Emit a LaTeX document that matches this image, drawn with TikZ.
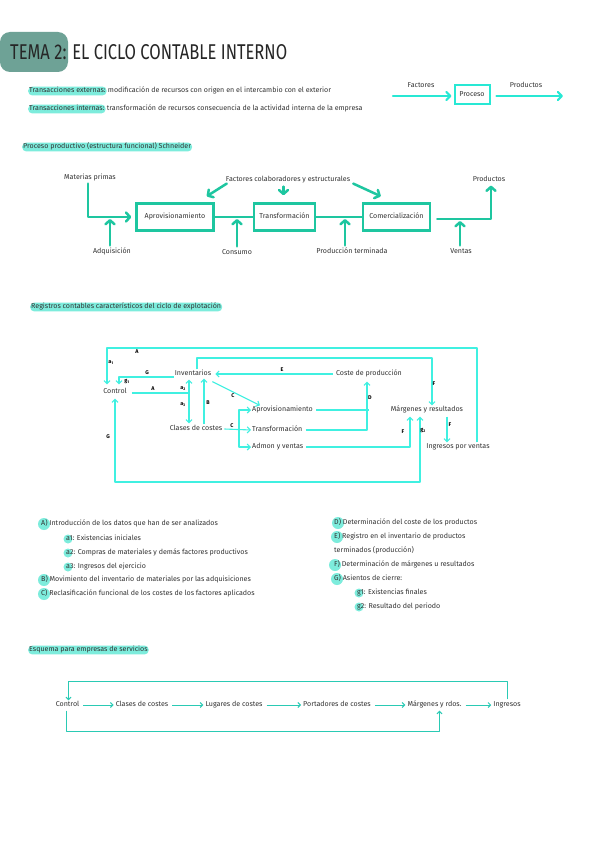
\documentclass[tikz,border=0pt]{standalone}
\usepackage{fontspec}
\setmainfont{Fira Sans}
\usetikzlibrary{arrows.meta,calc}
\definecolor{titlebox}{RGB}{110,162,150}
\definecolor{hl}{RGB}{125,236,220}
\definecolor{procc}{RGB}{30,198,160}
\definecolor{regc}{RGB}{64,240,225}
\definecolor{topc}{RGB}{40,232,212}
\definecolor{botc}{RGB}{42,202,180}
\definecolor{ink}{RGB}{50,50,50}
\tikzset{
  txt/.style={font=\fontsize{7.1}{8.5}\selectfont, text=ink, inner sep=1pt, text height=5.2pt, text depth=1.6pt},
  lab/.style={font=\fontsize{5.4}{6.5}\selectfont\bfseries, text=black, inner sep=0pt},
  hlbox/.style={txt, fill=hl, rounded corners=4pt},
  pbox/.style={txt, draw=procc, line width=2.5pt, minimum height=27pt},
  pline/.style={draw=procc, line width=2.5pt, line cap=round, line join=round},
  parrow/.style={pline, -{Straight Barb[length=4pt,width=9pt,round]}},
  tline/.style={draw=topc, line width=2.2pt, line cap=round, -{Straight Barb[length=4pt,width=8pt,round]}},
  rline/.style={draw=regc, line width=1.1pt, line join=round},
  rarrow/.style={rline, -{Straight Barb[length=3pt,width=6pt]}},
  rdarrow/.style={rline, {Straight Barb[length=3pt,width=6pt]}-{Straight Barb[length=3pt,width=6pt]}},
  bline/.style={draw=botc, line width=1pt, line join=round},
  barrow/.style={bline, -{Straight Barb[length=2.5pt,width=5pt]}},
  dot/.style={fill=hl},
}
\begin{document}
\begin{tikzpicture}[x=1pt,y=-1pt]
\path[use as bounding box, fill=white] (0,0) rectangle (599,848);

% ---------- title ----------
\fill[titlebox, rounded corners=10pt] (0,32) rectangle (68,72);
\node[anchor=west, inner sep=0pt, text=black!85] (title) at (10,52.5)
  {\resizebox{277pt}{15pt}{TEMA 2: EL CICLO CONTABLE INTERNO}};

% ---------- transactions ----------
\node[hlbox, anchor=west] (te) at (28,91) {Transacciones externas:};
\node[txt, anchor=west] (te2) at (te.east) {modificación de recursos con origen en el intercambio con el exterior};
\node[hlbox, anchor=west] (ti) at (28,109) {Transacciones internas:};
\node[txt, anchor=west] (ti2) at (ti.east) {transformación de recursos consecuencia de la actividad interna de la empresa};

% ---------- factores / proceso / productos ----------
\node[txt, draw=topc, line width=2pt, minimum width=35pt, minimum height=19pt] (proc) at (472,95) {Proceso};
\node[txt] (tfac) at (421,86) {Factores};
\node[txt] (tpro) at (526,86) {Productos};
\coordinate (fin) at (393,96);
\coordinate (fout) at (563,96);
\draw[tline] (fin) -- ($(proc.west)+(-2,1)$);
\draw[tline] ($(proc.east)+(6,1)$) -- (fout);

% ---------- proceso productivo ----------
\node[hlbox, anchor=west] (hpp) at (22,147) {Proceso productivo (estructura funcional) Schneider};

\node[pbox, minimum width=77pt] (apr) at (175,217) {Aprovisionamiento};
\node[pbox, minimum width=61pt] (tra) at (284.5,217) {Transformación};
\node[pbox, minimum width=67pt] (com) at (396.5,217) {Comercialización};
\node[txt] (mp) at (90,178) {Materias primas};
\node[txt] (adq) at (112,252) {Adquisición};
\node[txt] (cons) at (237,253) {Consumo};
\node[txt] (prodt) at (352,252) {Producción terminada};
\node[txt] (vent) at (461,252) {Ventas};
\node[txt] (prods) at (489,180) {Productos};
\node[txt] (fac) at (288,180) {Factores colaboradores y estructurales};

\draw[parrow] ($(mp.south)+(-2,1)$) |- ($(apr.west)+(-4,0)$);
\draw[parrow] ($(adq.north)+(-2,-2)$) -- ($(adq.north |- apr.west)+(-2,2)$);
\draw[pline] (apr.east) -- (tra.west);
\draw[parrow] ($(cons.north)+(0,-2)$) -- ($(cons.north |- apr.east)+(0,2)$);
\draw[pline] (tra.east) -- (com.west);
\draw[parrow] ($(prodt.north)+(-7,-2)$) -- ($(prodt.north |- tra.east)+(-7,2)$);
\draw[parrow] ($(com.east)+(6,2)$) -| ($(prods.south)+(2,1)$);
\draw[parrow] ($(vent.north)+(-1,-2)$) -- ($(vent.north |- com.east)+(-1,4)$);
\draw[parrow] ($(fac.south west)+(2,-1)$) -- ($(apr.north east)+(-8,-6)$);
\draw[parrow] ($(fac.south -| tra.north)+(-1,2)$) -- ($(tra.north)+(-1,-7)$);
\draw[parrow] ($(fac.south east)+(2,-1)$) -- ($(com.north west)+(19,-6)$);

% ---------- registros ----------
\node[hlbox, anchor=west] (hreg) at (30,307) {Registros contables característicos del ciclo de explotación};

\node[txt] (ctl) at (115,392) {Control};
\node[txt] (inv) at (193,374) {Inventarios};
\node[txt] (cla) at (196,429) {Clases de costes};
\node[txt, anchor=west] (apv) at (251,410) {Aprovisionamiento};
\node[txt, anchor=west] (trf) at (251,430) {Transformación};
\node[txt, anchor=west] (adm) at (251,447) {Admon y ventas};
\node[txt] (cst) at (369,374) {Coste de producción};
\node[txt] (mar) at (427,410) {Márgenes y resultados};
\node[txt] (ing) at (458,447) {Ingresos por ventas};

\coordinate (ra) at (477,348);
\coordinate (la) at (107,348);
\coordinate (rb) at (432,358);
\coordinate (va) at (189,393);
\coordinate (cb) at (239,430);
\coordinate (gbot) at (0,482);
\coordinate (bB) at ($(cla.north)+(8,0)$);
\coordinate (fF) at ($(mar.south)+(20,2)$);

\draw[rarrow] (ing.north -| ra) -- (ra) -- (la) -- ($(la |- ctl.north)+(0,-3)$);
\draw[rarrow] ($(inv.north)+(4,0)$) |- (rb) -- (rb |- mar.north);
\draw[rarrow] ($(inv.west)+(0,3)$) -| ($(ctl.north)+(4,-3)$);
\draw[rline] ($(ctl.east)+(4,1)$) -- (va);
\draw[rdarrow] ($(inv.south -| va)+(0,1)$) -- ($(cla.north -| va)+(0,-1)$);
\draw[rarrow] (bB) -- (bB |- inv.south);
\draw[rarrow] ($(inv.south east)+(0,3)$) -- ($(apv.north west)+(9,0)$);
\draw[rarrow] ($(cla.east)+(1,0)$) -- (trf.west);
\draw[rarrow] (cb) |- (apv.west);
\draw[rarrow] (cb) |- (adm.west);
\draw[rline] ($(apv.east)+(2,0)$) -- (apv.east -| cst.south);
\draw[rarrow] ($(trf.east)+(2,0)$) -| ($(cst.south)+(-2,3)$);
\draw[rarrow] ($(cst.west)+(-2,0)$) -- ($(inv.east)+(3,0)$);
\draw[rarrow] ($(adm.east)+(2,0)$) -| ($(mar.south)+(-17,2)$);
\draw[rarrow] (fF) -- (fF |- ing.north);
\draw[rdarrow] ($(ctl.south)+(0,2)$) -- (ctl.south |- gbot) -| ($(mar.south)+(-7,2)$);

\node[lab] (lA1) at (137,352) {A};
\node[lab] (la1) at (111,363) {a\textsubscript{1}};
\node[lab] (lG1) at (147,373) {G};
\node[lab] (lg1) at (127,381) {g\textsubscript{1}};
\node[lab] (lA2) at (153,389) {A};
\node[lab] (la2) at (183,389) {a\textsubscript{2}};
\node[lab] (la3) at (183,405) {a\textsubscript{3}};
\node[lab] (lB) at (208,403) {B};
\node[lab] (lC1) at (233,396) {C};
\node[lab] (lC2) at (232,426) {C};
\node[lab] (lE) at (282,370) {E};
\node[lab] (lD) at (370,398) {D};
\node[lab] (lF1) at (434,384) {F};
\node[lab] (lF2) at (403,432) {F};
\node[lab] (lF3) at (450,425) {F};
\node[lab] (lg2) at (423,430) {g\textsubscript{2}};
\node[lab] (lG2) at (108,437) {G};

% ---------- legend ----------
\fill[dot] (44,524) circle (6);
\fill[dot] (44,580) circle (6);
\fill[dot] (44,594) circle (6);
\fill[dot] (68,539) circle (4.5);
\fill[dot] (68,553) circle (4.5);
\fill[dot] (68,567) circle (4.5);
\fill[dot] (338,523) circle (6);
\fill[dot] (337,537) circle (6);
\fill[dot] (335,565) circle (6);
\fill[dot] (337,579) circle (6);
\fill[dot] (359,593) circle (4.5);
\fill[dot] (359,607) circle (4.5);

\node[txt, anchor=west] (lgA) at (40,524) {A) Introducción de los datos que han de ser analizados};
\node[txt, anchor=west] (lga1) at (65,539) {a1: Existencias iniciales};
\node[txt, anchor=west] (lga2) at (65,553) {a2: Compras de materiales y demás factores productivos};
\node[txt, anchor=west] (lga3) at (65,567) {a3: Ingresos del ejercicio};
\node[txt, anchor=west] (lgB) at (40,580) {B) Movimiento del inventario de materiales por las adquisiciones};
\node[txt, anchor=west] (lgC) at (40,594) {C) Reclasificación funcional de los costes de los factores aplicados};
\node[txt, anchor=west] (lgD) at (333,523) {D) Determinación del coste de los productos};
\node[txt, anchor=west] (lgE) at (333,537) {E) Registro en el inventario de productos};
\node[txt, anchor=west] (lgE2) at (333,551) {terminados (producción)};
\node[txt, anchor=west] (lgF) at (333,565) {F) Determinación de márgenes u resultados};
\node[txt, anchor=west] (lgG) at (333,579) {G) Asientos de cierre:};
\node[txt, anchor=west] (lgg1) at (356,593) {g1: Existencias finales};
\node[txt, anchor=west] (lgg2) at (356,607) {g2: Resultado del periodo};

% ---------- servicios ----------
\node[hlbox, anchor=west] (hser) at (28,650) {Esquema para empresas de servicios};

\node[txt] (bc) at (67.5,705) {Control};
\node[txt] (bcl) at (142,705) {Clases de costes};
\node[txt] (blu) at (234,705) {Lugares de costes};
\node[txt] (bpo) at (337,705) {Portadores de costes};
\node[txt] (bma) at (434.5,705) {Márgenes y rdos.};
\node[txt] (bin) at (507,705) {Ingresos};
\coordinate (btop) at (0,681);
\coordinate (bbot) at (0,731);

\draw[barrow] ($(bc.east)+(3,0)$) -- ($(bcl.west)+(-1,0)$);
\draw[barrow] ($(bcl.east)+(3,0)$) -- ($(blu.west)+(-1,0)$);
\draw[barrow] ($(blu.east)+(3,0)$) -- ($(bpo.west)+(-1,0)$);
\draw[barrow] ($(bpo.east)+(3,0)$) -- ($(bma.west)+(-1,0)$);
\draw[barrow] ($(bma.east)+(3,0)$) -- ($(bin.west)+(-1,0)$);
\draw[barrow] ($(bin.north)+(0,-1)$) -- (bin.north |- btop) -| ($(bc.north)+(1,0)$);
\draw[barrow] ($(bc.south)+(-1,1)$) -- ($(bc.south |- bbot)+(-1,0)$) -| ($(bma.south)+(5,1)$);
\end{tikzpicture}
\end{document}
